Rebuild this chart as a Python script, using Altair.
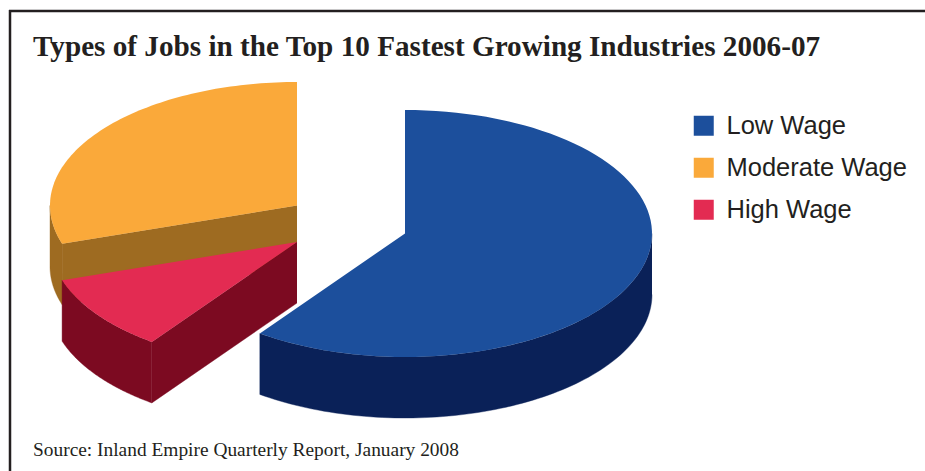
import math

import altair as alt
import pandas as pd

# Share of jobs by wage class
categories = ["Low Wage", "Moderate Wage", "High Wage"]
shares = [60, 30, 10]
top_colors = ["#1C4F9C", "#FAA93A", "#E32B52"]
side_colors = ["#0A2158", "#9E6B21", "#7C0A21"]

# Exploded pie geometry: tilted disc radii, wall depth and each slice's centre
RX, RY, DEPTH = 247, 123.5, 61
CENTRES = {"Low Wage": (405, 233.5), "Moderate Wage": (297, 205.5), "High Wage": (297, 242)}
# Slices run clockwise from twelve o'clock in the order low, high, moderate
SWEEP_ORDER = ["Low Wage", "High Wage", "Moderate Wage"]
W, H = 925, 471

x_scale = alt.Scale(domain=[0, W], nice=False, zero=False)
y_scale = alt.Scale(domain=[H, 0], nice=False, zero=False)


def slice_angles():
    spans, start = {}, 0.0
    for name in SWEEP_ORDER:
        end = start + shares[categories.index(name)] / sum(shares) * 2 * math.pi
        spans[name] = (start, end)
        start = end
    return spans


def rim(name, a0, a1, drop=0.0, steps=90):
    cx, cy = CENTRES[name]
    out = []
    for k in range(steps + 1):
        a = a0 + (a1 - a0) * k / steps
        out.append((cx + RX * math.sin(a), cy - RY * math.cos(a) + drop))
    return out


def polygon_layer(points, fill=None, label=None):
    frame = pd.DataFrame(points, columns=["px", "py"])
    frame["i"] = range(len(frame))
    enc = dict(
        x=alt.X("px:Q", scale=x_scale, axis=None),
        y=alt.Y("py:Q", scale=y_scale, axis=None),
        order=alt.Order("i:Q"),
    )
    if label is not None:
        frame["label"] = label
        enc["fill"] = alt.Fill(
            "label:N",
            scale=alt.Scale(domain=categories, range=top_colors),
            legend=alt.Legend(
                title=None,
                orient="none",
                legendX=691,
                legendY=113,
                symbolType="square",
                symbolSize=400,
                symbolStrokeWidth=0,
                symbolOpacity=1,
                labelFont="Liberation Sans",
                labelFontSize=25.5,
                labelColor="#231F20",
                labelLimit=300,
                labelOffset=10,
                rowPadding=15,
                padding=0,
            ),
        )
        mark = alt.Chart(frame).mark_line(strokeWidth=0, filled=True)
    else:
        # A hairline in the fill colour closes the seam between wall panels
        mark = alt.Chart(frame).mark_line(strokeWidth=0.4, stroke=fill, filled=True, fill=fill)
    return mark.encode(**enc)


spans = slice_angles()
layers = []
# Back to front: moderate, then high, then low
for name in ["Moderate Wage", "High Wage", "Low Wage"]:
    a0, a1 = spans[name]
    cx, cy = CENTRES[name]
    side = side_colors[categories.index(name)]
    # Outer wall, limited to the part of the rim facing the viewer
    w0, w1 = max(a0, math.pi / 2), min(a1, 3 * math.pi / 2)
    if w1 > w0:
        layers.append(polygon_layer(rim(name, w0, w1) + rim(name, w1, w0, DEPTH), fill=side))
    # Cut face on the slice's leading edge, where it turns toward the viewer
    if name != "Low Wage":
        p = rim(name, a0, a0, steps=1)[0]
        face = [(cx, cy), p, (p[0], p[1] + DEPTH), (cx, cy + DEPTH)]
        layers.append(polygon_layer(face, fill=side))
    layers.append(polygon_layer([(cx, cy)] + rim(name, a0, a1), label=name))

source = (
    alt.Chart(pd.DataFrame({"t": ["Source: Inland Empire Quarterly Report, January 2008"]}))
    .mark_text(
        align="left",
        baseline="alphabetic",
        font="Liberation Serif",
        fontSize=19.4,
        color="#231F20",
    )
    .encode(x=alt.value(33), y=alt.value(456), text="t:N")
)

frame_top = alt.Chart(pd.DataFrame({"a": [0]})).mark_rule(color="#231F20", strokeWidth=2.5).encode(
    x=alt.value(9), x2=alt.value(W), y=alt.value(11)
)
frame_left = alt.Chart(pd.DataFrame({"a": [0]})).mark_rule(color="#231F20", strokeWidth=2.5).encode(
    x=alt.value(10), y=alt.value(10), y2=alt.value(H)
)

chart = (
    alt.layer(*layers, source, frame_top, frame_left)
    .properties(
        width=W,
        height=H,
        padding=0,
        autosize=alt.AutoSizeParams(type="none"),
        background="white",
        title=alt.TitleParams(
            "Types of Jobs in the Top 10 Fastest Growing Industries 2006-07",
            anchor="start",
            frame="group",
            orient="top",
            offset=0,
            dx=33,
            dy=85,
            baseline="alphabetic",
            font="Liberation Serif",
            fontSize=29.2,
            fontWeight="bold",
            color="#231F20",
        ),
    )
    .configure_view(stroke=None)
)

chart.save("out.html", embed_options={"renderer": "svg", "actions": False})
